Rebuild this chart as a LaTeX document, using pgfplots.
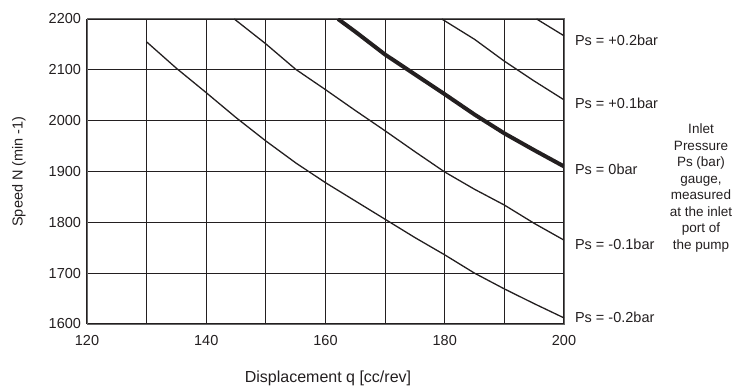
\documentclass[border=0pt]{standalone}
\usepackage{fontspec}
\setmainfont{Liberation Sans}
\usepackage{pgfplots}
\pgfplotsset{compat=1.18}
\definecolor{ink}{HTML}{231F20}
\begin{document}
\fontsize{14.5bp}{18bp}\selectfont
\begin{tikzpicture}[x=1bp,y=1bp]
\begin{axis}[
  at={(0,0)}, anchor=south west,
  scale only axis, width=477bp, height=305bp,
  xmin=120, xmax=200, ymin=1600, ymax=2200,
  clip mode=individual,
  xtick={120,140,160,180,200},
  ytick={1600,1700,1800,1900,2000,2100,2200},
  minor xtick={130,150,170,190},
  extra x ticks={150,180}, extra x tick labels={},
  extra x tick style={grid style={line width=2.2bp, color=ink}, major tick length=0pt},
  grid=both,
  major grid style={line width=1.1bp, color=ink},
  minor grid style={line width=1.1bp, color=ink},
  major tick length=0pt, minor tick length=0pt,
  axis line style={line width=1bp, color=black!60},
  tick label style={font=\fontsize{14.5bp}{16bp}\selectfont, color=ink},
  /pgf/number format/assume math mode=true,
  /pgf/number format/1000 sep={},
  xticklabel style={yshift=-6bp},
  yticklabel style={xshift=-1bp},
]
\addplot[ink, line width=1.3bp] coordinates {
  (130,2155) (135,2103) (140,2055) (145,2006) (150,1960) (155,1917) (160,1878) (165,1842) (170,1806) (175,1770) (180,1736) (185,1700) (190,1669) (195,1640) (200,1612)};
\addplot[ink, line width=1.3bp] coordinates {
  (144.7,2200) (150,2151) (155,2101) (160,2061) (165,2020) (170,1980) (175,1939) (180,1899) (185,1865) (190,1834) (195,1798) (200,1765)};
\addplot[ink, line width=4bp] coordinates {
  (162.1,2200) (165,2175) (170,2130) (175,2091) (180,2052) (185,2012) (190,1975) (195,1942) (200,1910)};
\addplot[ink, line width=1.3bp] coordinates {
  (179.5,2200) (185,2160) (190,2117) (195,2078) (200,2041)};
\addplot[ink, line width=1.3bp] coordinates {
  (195.4,2200) (200,2167)};
\node[anchor=west, color=ink, xshift=6bp] at (axis cs:200,2159) {Ps = +0.2bar};
\node[anchor=west, color=ink, xshift=6bp] at (axis cs:200,2035) {Ps = +0.1bar};
\node[anchor=west, color=ink, xshift=6bp] at (axis cs:200,1905) {Ps = 0bar};
\node[anchor=west, color=ink, xshift=6bp] at (axis cs:200,1756) {Ps = -0.1bar};
\node[anchor=west, color=ink, xshift=6bp] at (axis cs:200,1614) {Ps = -0.2bar};
\end{axis}
\node[rotate=90, color=ink] at (-68bp,152.5bp) {Speed N (min -1)};
\node[color=ink, font=\fontsize{16bp}{18bp}\selectfont] at (241bp,-54bp) {Displacement q [cc/rev]};
\node[align=center, color=ink, inner sep=0pt, font=\fontsize{13.5bp}{16.5bp}\selectfont] at (614bp,136bp) {Inlet\\Pressure\\Ps (bar)\\gauge,\\measured\\at the inlet\\port of\\the pump};
\pgfresetboundingbox
\path[use as bounding box] (-87bp,-66bp) rectangle (659bp,324bp);
\end{tikzpicture}
\end{document}
